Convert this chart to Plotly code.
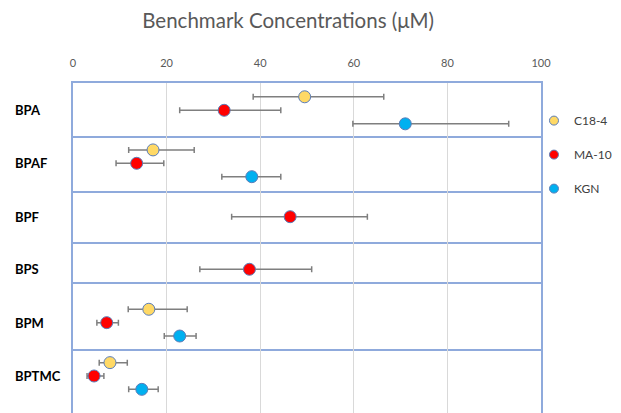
import plotly.graph_objects as go
from plotly.subplots import make_subplots

# ---- data ----
groups = ["BPA", "BPAF", "BPF", "BPS", "BPM", "BPTMC"]
series_names = ["C18-4", "MA-10", "KGN"]

c18_val = [49.5, 17.1, None, None, 16.2, 7.9]
c18_lo = [38.5, 11.9, None, None, 11.8, 5.6]
c18_hi = [66.4, 25.9, None, None, 24.4, 11.6]

ma10_val = [32.3, 13.6, 46.4, 37.7, 7.2, 4.5]
ma10_lo = [22.8, 9.2, 33.9, 27.1, 5.1, 3.0]
ma10_hi = [44.4, 19.4, 62.9, 51.0, 9.7, 6.6]

kgn_val = [71.0, 38.2, None, None, 22.8, 14.7]
kgn_lo = [59.8, 31.8, None, None, 19.5, 11.9]
kgn_hi = [93.1, 44.4, None, None, 26.3, 18.2]

x_ticks = [0, 20, 40, 60, 80, 100]

# ---- styling / layout ----
colors = ["#FFD966", "#FF0000", "#00B0F0"]
row_heights = [53, 55, 51, 40, 67, 64]
y_ranges = [[2.9, -1.02], [3.07, -1.04], [2.89, -0.92], [1.95, -1.04], [2.97, -2.04], [3.77, -1.02]]
box_color = "#8FAADC"
grid_color = "#D9D9D9"
font_family = "Lato, 'Open Sans', sans-serif"

series = [
    (c18_val, c18_lo, c18_hi),
    (ma10_val, ma10_lo, ma10_hi),
    (kgn_val, kgn_lo, kgn_hi),
]

fig = make_subplots(rows=len(groups), cols=1, shared_xaxes=True,
                    vertical_spacing=0, row_heights=row_heights)

for gi, g in enumerate(groups):
    for si, (vals, los, his) in enumerate(series):
        v = vals[gi]
        if v is None:
            continue
        fig.add_trace(go.Scatter(
            x=[v], y=[si], mode="markers",
            name=series_names[si], legendgroup=series_names[si], showlegend=False,
            marker=dict(size=12, color=colors[si], line=dict(color="#5B7DB8", width=1)),
            error_x=dict(type="data", symmetric=False,
                         array=[his[gi] - v], arrayminus=[v - los[gi]],
                         color="#7F7F7F", thickness=1.5, width=3),
            hoverinfo="x+name",
        ), row=gi + 1, col=1)

# legend-only entries (smaller markers, as in the reference legend)
for si, name in enumerate(series_names):
    fig.add_trace(go.Scatter(
        x=[None], y=[None], mode="markers", name=name, legendgroup=name,
        marker=dict(size=9, color=colors[si], line=dict(color="#5B7DB8", width=1)),
        showlegend=True,
    ), row=1, col=1)

for gi, g in enumerate(groups):
    r = gi + 1
    fig.update_xaxes(range=[0, 100], tickvals=x_ticks, showgrid=True, gridcolor=grid_color,
                     gridwidth=1, zeroline=False, showline=True, linecolor=box_color,
                     linewidth=1.5, mirror=(r == 1), showticklabels=(r == 1),
                     automargin=False, ticks="",
                     row=r, col=1)
    fig.update_yaxes(range=y_ranges[gi], showticklabels=False, showgrid=False,
                     zeroline=False, showline=True, linecolor=box_color, linewidth=1.5,
                     mirror=True, automargin=False, ticks="", row=r, col=1)
    fig.add_annotation(text="<b>%s</b>" % g, xref="paper", yref="y%s" % ("" if r == 1 else r),
                       x=-0.128, y=1, xanchor="left", yanchor="middle", showarrow=False,
                       font=dict(size=13, color="#000000", family=font_family))

fig.update_xaxes(side="top", ticks="outside", ticklen=10, tickcolor="rgba(0,0,0,0)",
                 tickfont=dict(size=11, color="#595959"), row=1, col=1)

fig.update_layout(
    template="none",
    width=613, height=405,
    margin=dict(l=65, r=80, t=75, b=0, autoexpand=False),
    paper_bgcolor="white", plot_bgcolor="white",
    font=dict(family=font_family, color="#404040"),
    title=dict(text="Benchmark Concentrations (μM)", x=0.457, xanchor="center",
               xref="container", y=0.968, yanchor="middle",
               font=dict(size=20.5, color="#595959", family=font_family)),
    legend=dict(x=0.985, y=0.93, xanchor="left", yanchor="top",
                font=dict(size=12, color="#404040"),
                traceorder="grouped", tracegroupgap=15,
                bgcolor="rgba(0,0,0,0)", borderwidth=0),
    showlegend=True,
    hovermode="closest",
)

fig.write_html("out.html")
